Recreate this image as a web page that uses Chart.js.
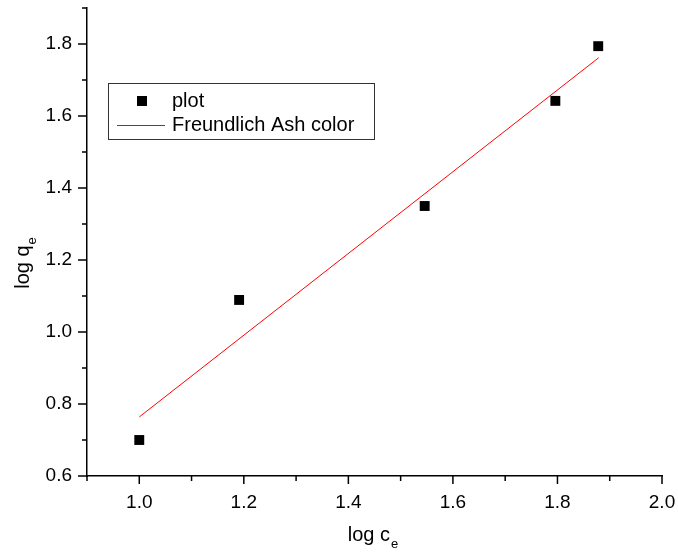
<!DOCTYPE html>
<html lang="en">
<head>
  <meta charset="UTF-8">
  <title>Freundlich isotherm</title>
  <style>
    body {
      margin: 0;
      background: white;
    }
    canvas {
      display: block;
    }
  </style>
</head>
<body>
  <canvas id="chart" width="678" height="557"></canvas>

  <script src="https://cdn.jsdelivr.net/npm/chart.js"></script>
  <script>
    // measured points (log ce, log qe)
    const plotX = [1.0, 1.191, 1.546, 1.796, 1.878];
    const plotY = [0.70, 1.089, 1.35, 1.642, 1.794];
    // Freundlich fit line end points
    const fitX = [1.0, 1.879];
    const fitY = [0.764, 1.762];

    const xMajor = [1.0, 1.2, 1.4, 1.6, 1.8, 2.0];
    const xMinor = [0.9, 1.1, 1.3, 1.5, 1.7, 1.9];
    const yMajor = [0.6, 0.8, 1.0, 1.2, 1.4, 1.6, 1.8];
    const yMinor = [0.7, 0.9, 1.1, 1.3, 1.5, 1.7, 1.9];

    const FONT = '"Liberation Sans", Arial, sans-serif';

    // ticks pointing out, major longer than minor
    const tickMarks = {
      id: 'tickMarks',
      afterDraw(chart) {
        const c = chart.ctx;
        const xs = chart.scales.x, ys = chart.scales.y;
        const bottom = chart.chartArea.bottom, left = chart.chartArea.left;
        c.save();
        c.strokeStyle = '#000';
        c.lineWidth = 1.5;
        c.beginPath();
        xMajor.forEach(v => { const p = xs.getPixelForValue(v); c.moveTo(p, bottom); c.lineTo(p, bottom + 8); });
        xMinor.forEach(v => { const p = xs.getPixelForValue(v); c.moveTo(p, bottom); c.lineTo(p, bottom + 5); });
        yMajor.forEach(v => { const p = ys.getPixelForValue(v); c.moveTo(left, p); c.lineTo(left - 9, p); });
        yMinor.forEach(v => { const p = ys.getPixelForValue(v); c.moveTo(left, p); c.lineTo(left - 5, p); });
        c.stroke();
        c.restore();
      }
    };

    // axis titles with subscript e
    function subTitle(c, main, x, y, size) {
      c.font = size + 'px ' + FONT;
      c.textBaseline = 'alphabetic';
      c.textAlign = 'left';
      const w = c.measureText(main).width;
      c.font = Math.round(size * 0.65) + 'px ' + FONT;
      const ws = c.measureText('e').width;
      const x0 = x - (w + ws + 1) / 2;
      c.font = size + 'px ' + FONT;
      c.fillText(main, x0, y);
      c.font = Math.round(size * 0.65) + 'px ' + FONT;
      c.fillText('e', x0 + w + 1, y + 7);
    }

    const axisTitles = {
      id: 'axisTitles',
      afterDraw(chart) {
        const c = chart.ctx;
        c.save();
        c.fillStyle = '#000';
        subTitle(c, 'log c', 373, 541, 20);
        c.translate(29, 263);
        c.rotate(-Math.PI / 2);
        subTitle(c, 'log q', 0, 0, 20);
        c.restore();
      }
    };

    const legendBox = {
      id: 'legendBox',
      afterDraw(chart) {
        const c = chart.ctx;
        c.save();
        c.strokeStyle = '#333';
        c.lineWidth = 1;
        c.strokeRect(108.5, 83.5, 266, 56);
        c.fillStyle = '#000';
        c.fillRect(137, 96, 10, 10);
        c.strokeStyle = '#ff0000';
        c.beginPath();
        c.moveTo(117, 125.5);
        c.lineTo(165, 125.5);
        c.stroke();
        c.font = '20px ' + FONT;
        c.textBaseline = 'middle';
        c.fillText('plot', 172, 101);
        c.fillText('Freundlich Ash color', 172, 125);
        c.restore();
      }
    };

    const ctx = document.getElementById('chart').getContext('2d');
    new Chart(ctx, {
      type: 'scatter',
      data: {
        datasets: [{
          label: 'plot',
          data: plotX.map((x, i) => ({ x: x, y: plotY[i] })),
          pointStyle: 'rect',
          pointRadius: 7,
          pointHoverRadius: 7,
          backgroundColor: '#000',
          borderColor: '#000',
          borderWidth: 0
        }, {
          type: 'line',
          label: 'Freundlich Ash color',
          data: fitX.map((x, i) => ({ x: x, y: fitY[i] })),
          borderColor: '#ff0000',
          borderWidth: 1,
          pointRadius: 0,
          fill: false
        }]
      },
      options: {
        responsive: false,
        animation: false,
        layout: { padding: { top: 8, right: 16, left: 0, bottom: 0 } },
        plugins: {
          legend: { display: false },
          tooltip: { enabled: false }
        },
        scales: {
          x: {
            type: 'linear',
            min: 0.9,
            max: 2.0,
            afterBuildTicks: s => { s.ticks = xMajor.map(v => ({ value: v })); },
            afterFit: s => { s.height = 81; s.paddingLeft = 0; s.paddingRight = 0; },
            grid: { display: false, drawTicks: false },
            border: { display: true, color: '#000', width: 1.5 },
            ticks: {
              color: '#000',
              padding: 15,
              maxRotation: 0,
              font: { family: FONT, size: 19 },
              callback: v => v.toFixed(1)
            }
          },
          y: {
            type: 'linear',
            min: 0.6,
            max: 1.9,
            afterBuildTicks: s => { s.ticks = yMajor.map(v => ({ value: v })); },
            afterFit: s => { s.width = 87; s.paddingTop = 0; s.paddingBottom = 0; },
            grid: { display: false, drawTicks: false },
            border: { display: true, color: '#000', width: 1.5 },
            ticks: {
              color: '#000',
              padding: 15,
              font: { family: FONT, size: 19 },
              callback: v => v.toFixed(1)
            }
          }
        }
      },
      plugins: [tickMarks, axisTitles, legendBox]
    });
  </script>
</body>
</html>
